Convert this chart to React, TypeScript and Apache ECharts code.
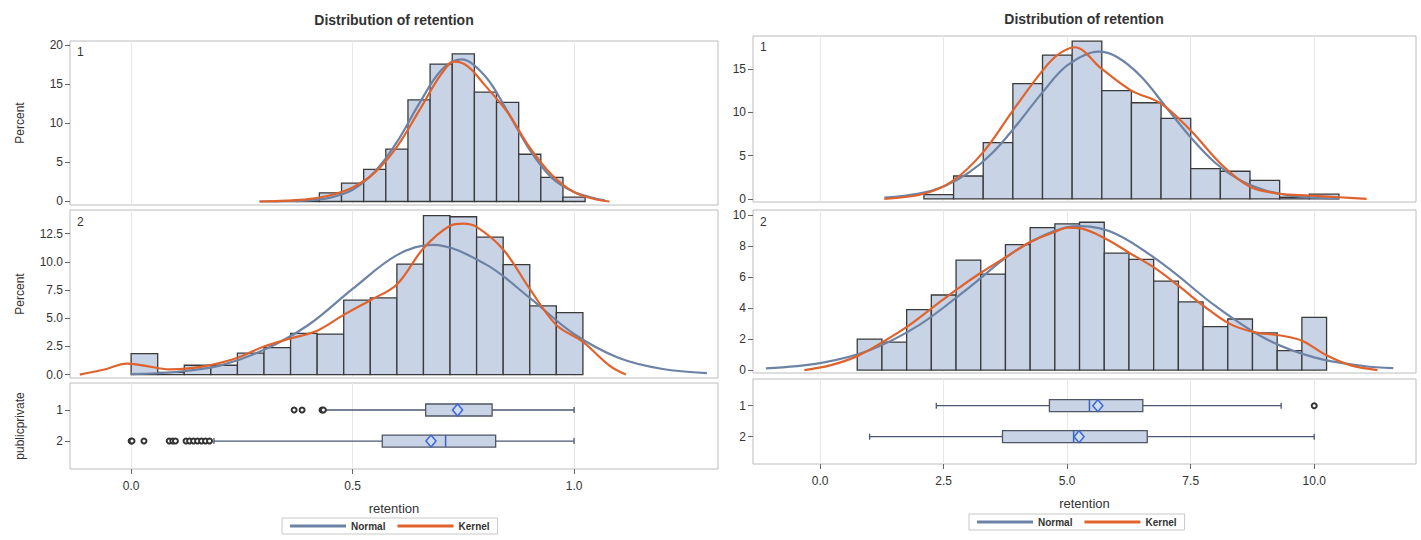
import React, { useEffect, useRef } from 'react';
import * as echarts from 'echarts';

const FONT = '"Liberation Sans", Arial, sans-serif';

// ---------- data ----------
const TITLE = 'Distribution of retention';
const X_NAME = 'retention';
const GROUPS = ['1', '2'];

// Left panel (share, 0..1)
const L_X_TICKS = [0, 0.5, 1.0];
const L_G1_BIN_W = 0.05;
const L_G1_CENTERS = [0.35, 0.40, 0.45, 0.50, 0.55, 0.60, 0.65, 0.70, 0.75, 0.80, 0.85, 0.90, 0.95, 1.00];
const L_G1_PCT = [0.1, 0.2, 1.1, 2.35, 4.1, 6.7, 13.0, 17.6, 18.9, 14.0, 12.7, 6.05, 3.1, 0.55];
const L_G1_NORMAL = [[0.29, 0.0], [0.35, 0.03], [0.40, 0.14], [0.45, 0.5], [0.50, 1.5], [0.55, 3.8], [0.60, 7.6], [0.65, 12.5], [0.70, 16.8], [0.745, 18.2], [0.80, 16.0], [0.85, 11.5], [0.90, 6.6], [0.95, 3.0], [1.00, 1.2], [1.05, 0.35], [1.07, 0.15]];
const L_G1_KERNEL = [[0.29, 0.0], [0.35, 0.1], [0.40, 0.3], [0.45, 0.8], [0.50, 1.8], [0.55, 3.7], [0.60, 7.0], [0.65, 11.6], [0.70, 16.3], [0.73, 17.9], [0.76, 17.3], [0.80, 14.8], [0.85, 11.4], [0.90, 6.9], [0.95, 3.4], [1.00, 1.2], [1.05, 0.25], [1.08, 0.0]];

const L_G2_BIN_W = 0.06;
const L_G2_CENTERS = [0.03, 0.09, 0.15, 0.21, 0.27, 0.33, 0.39, 0.45, 0.51, 0.57, 0.63, 0.69, 0.75, 0.81, 0.87, 0.93, 0.99];
const L_G2_PCT = [1.87, 0.2, 0.83, 0.83, 1.9, 2.4, 3.65, 3.6, 6.6, 6.8, 9.8, 14.1, 14.0, 12.2, 9.75, 6.1, 5.5];
const L_G2_NORMAL = [[0.0, 0.05], [0.1, 0.23], [0.2, 0.8], [0.3, 2.2], [0.4, 4.4], [0.5, 7.6], [0.6, 10.6], [0.68, 11.5], [0.8, 9.8], [0.9, 6.8], [1.0, 3.6], [1.1, 1.5], [1.2, 0.5], [1.3, 0.14]];
const L_G2_KERNEL = [[-0.116, 0], [-0.06, 0.45], [-0.01, 0.98], [0.03, 0.8], [0.086, 0.47], [0.13, 0.55], [0.18, 0.85], [0.24, 1.5], [0.30, 2.5], [0.36, 3.2], [0.42, 3.9], [0.48, 5.3], [0.54, 6.6], [0.60, 8.0], [0.66, 11.2], [0.72, 13.2], [0.75, 13.4], [0.78, 13.1], [0.84, 11.1], [0.90, 7.6], [0.96, 4.4], [1.02, 2.9], [1.08, 0.8], [1.117, 0.0]];

// boxplot: [min, q1, median, q3, max, mean]
const L_BOX = [[0.435, 0.665, 0.737, 0.815, 1.0, 0.737], [0.187, 0.567, 0.71, 0.823, 1.0, 0.677]];
const L_OUT_G1 = [0.368, 0.386, 0.431, 0.434];
const L_OUT_G2 = [0.0, 0.002, 0.029, 0.086, 0.094, 0.100, 0.124, 0.132, 0.141, 0.150, 0.159, 0.168, 0.177];

// Right panel (0..10)
const R_X_TICKS = [0, 2.5, 5.0, 7.5, 10.0];
const R_G1_BIN_W = 0.6;
const R_G1_CENTERS = [2.4, 3.0, 3.6, 4.2, 4.8, 5.4, 6.0, 6.6, 7.2, 7.8, 8.4, 9.0, 9.6, 10.2];
const R_G1_PCT = [0.5, 2.65, 6.5, 13.3, 16.6, 18.2, 12.5, 11.1, 9.3, 3.5, 3.2, 2.15, 0.2, 0.55];
const R_G1_NORMAL = [[1.3, 0.15], [2.0, 0.62], [2.5, 1.45], [3.0, 3.0], [3.5, 5.4], [4.0, 8.7], [4.5, 12.3], [5.0, 15.4], [5.63, 17.0], [6.0, 16.4], [6.5, 14.1], [7.0, 10.6], [7.5, 7.1], [8.0, 4.15], [8.5, 2.15], [9.0, 1.0], [9.5, 0.4], [10.0, 0.14], [10.5, 0.05]];
const R_G1_KERNEL = [[1.3, 0], [2.1, 0.6], [2.7, 2.15], [3.3, 5.4], [3.9, 10.2], [4.5, 14.8], [4.8, 16.6], [5.15, 17.5], [5.7, 15.0], [6.3, 12.5], [6.9, 11.0], [7.5, 7.9], [8.1, 4.1], [8.7, 1.4], [9.3, 0.6], [9.9, 0.4], [10.5, 0.2], [11.06, 0]];

const R_G2_BIN_W = 0.5;
const R_G2_CENTERS = [1.0, 1.5, 2.0, 2.5, 3.0, 3.5, 4.0, 4.5, 5.0, 5.5, 6.0, 6.5, 7.0, 7.5, 8.0, 8.5, 9.0, 9.5, 10.0];
const R_G2_PCT = [2.0, 1.8, 3.9, 4.85, 7.1, 6.2, 8.1, 9.2, 9.45, 9.55, 7.55, 7.15, 5.75, 4.4, 2.8, 3.3, 2.4, 1.25, 3.4];
const R_G2_NORMAL = [[-1.1, 0.11], [0, 0.45], [1, 1.28], [2, 2.9], [3, 5.3], [4, 7.8], [5, 9.23], [5.27, 9.3], [6, 8.78], [7, 6.7], [8, 4.14], [9, 2.05], [10, 0.82], [11, 0.26], [11.6, 0.12]];
const R_G2_KERNEL = [[-0.32, 0], [0.2, 0.3], [0.75, 0.9], [1.26, 1.8], [1.76, 2.8], [2.26, 4.0], [2.76, 5.2], [3.26, 6.3], [3.76, 7.3], [4.27, 8.3], [4.77, 8.95], [5.0, 9.2], [5.27, 9.15], [5.77, 8.5], [6.27, 7.55], [6.77, 6.6], [7.27, 5.4], [7.78, 4.1], [8.28, 3.0], [8.78, 2.45], [9.28, 2.25], [9.75, 1.9], [10.25, 0.95], [10.74, 0.3], [11.28, 0]];

const R_BOX = [[2.35, 4.64, 5.45, 6.53, 9.33, 5.62], [1.0, 3.69, 5.13, 6.62, 10.0, 5.24]];
const R_OUT_G1 = [10.0];
const R_OUT_G2: number[] = [];

const L_Y1_TICKS = [0, 5, 10, 15, 20];
const L_Y2_TICKS = [0, 2.5, 5, 7.5, 10, 12.5];
const R_Y1_TICKS = [0, 5, 10, 15];
const R_Y2_TICKS = [0, 2, 4, 6, 8, 10];
const BOX_TICKS = [1, 2];

// ---------- styles ----------
const BAR_FILL = '#c8d3e5';
const BAR_STROKE = '#3a3a3a';
const NORMAL_C = '#6c83a5';
const KERNEL_C = '#e0622c';
const FRAME_C = '#bcbcbc';
const GRIDLINE_C = '#e8e8e8';
const TEXT_C = '#333';
const TICK_C = '#666';

const GRIDS = [
  { left: 70, top: 41, width: 648, height: 164 },
  { left: 70, top: 210, width: 648, height: 168 },
  { left: 70, top: 383, width: 648, height: 86 },
  { left: 753, top: 36, width: 663, height: 166 },
  { left: 753, top: 210, width: 663, height: 163 },
  { left: 753, top: 379, width: 663, height: 85 },
];

function histSeries(idx: number, centers: number[], pct: number[], w: number) {
  return {
    type: 'custom',
    xAxisIndex: idx,
    yAxisIndex: idx,
    silent: true,
    data: centers.map((c, k) => [c, pct[k]]),
    encode: { x: 0, y: 1 },
    renderItem: (_p: any, api: any) => {
      const c = api.value(0);
      const v = api.value(1);
      const a = api.coord([c - w / 2, v]);
      const b = api.coord([c + w / 2, 0]);
      return {
        type: 'rect',
        shape: { x: a[0], y: a[1], width: b[0] - a[0], height: b[1] - a[1] },
        style: { fill: BAR_FILL, stroke: BAR_STROKE, lineWidth: 1.3 },
      };
    },
  };
}

function curve(idx: number, name: string, data: number[][], color: string) {
  return {
    type: 'line',
    name,
    xAxisIndex: idx,
    yAxisIndex: idx,
    data,
    smooth: 0.35,
    symbol: 'none',
    silent: true,
    lineStyle: { color, width: 2.2 },
    itemStyle: { color },
  };
}

function boxSeries(idx: number, boxes: number[][]) {
  return {
    type: 'custom',
    xAxisIndex: idx,
    yAxisIndex: idx,
    silent: true,
    data: boxes.map((b, k) => [k + 1, ...b]),
    encode: { x: [1, 2, 3, 4, 5, 6], y: 0 },
    renderItem: (_p: any, api: any) => {
      const cat = api.value(0);
      const X = (v: number) => api.coord([v, cat])[0];
      const cy = api.coord([api.value(1), cat])[1];
      const mn = X(api.value(1)), q1 = X(api.value(2)), md = X(api.value(3));
      const q3 = X(api.value(4)), mx = X(api.value(5)), mean = X(api.value(6));
      const h = 12;
      const wl = { stroke: '#4b5873', lineWidth: 1.3 };
      return {
        type: 'group',
        children: [
          { type: 'line', shape: { x1: mn, y1: cy, x2: q1, y2: cy }, style: wl },
          { type: 'line', shape: { x1: q3, y1: cy, x2: mx, y2: cy }, style: wl },
          { type: 'line', shape: { x1: mn, y1: cy - 3, x2: mn, y2: cy + 3 }, style: wl },
          { type: 'line', shape: { x1: mx, y1: cy - 3, x2: mx, y2: cy + 3 }, style: wl },
          { type: 'rect', shape: { x: q1, y: cy - h / 2, width: q3 - q1, height: h }, style: { fill: BAR_FILL, stroke: '#4f5563', lineWidth: 1.3 } },
          { type: 'line', shape: { x1: md, y1: cy - h / 2, x2: md, y2: cy + h / 2 }, style: { stroke: '#3b62c2', lineWidth: 1.5 } },
          { type: 'polygon', shape: { points: [[mean, cy - 6], [mean + 5, cy], [mean, cy + 6], [mean - 5, cy]] }, style: { fill: '#d3ddf2', stroke: '#3a68d6', lineWidth: 1.5 } },
        ],
      };
    },
  };
}

function outlierSeries(idx: number, outs: number[][]) {
  const data: number[][] = [];
  outs.forEach((arr, k) => arr.forEach((v) => data.push([v, k + 1])));
  return {
    type: 'scatter',
    xAxisIndex: idx,
    yAxisIndex: idx,
    silent: true,
    symbol: 'emptyCircle',
    symbolSize: 5,
    z: 5,
    data,
    itemStyle: { color: '#333', borderWidth: 1.3, opacity: 1 },
  };
}

function xAxis(idx: number, min: number, max: number, ticks: number[], bottom: boolean) {
  return {
    type: 'value',
    gridIndex: idx,
    min,
    max,
    axisLine: { show: false, onZero: false },
    axisTick: { show: bottom, customValues: ticks, length: 5, lineStyle: { color: TICK_C } },
    axisLabel: {
      show: bottom,
      customValues: ticks,
      formatter: (v: number) => v.toFixed(1),
      fontSize: 12,
      color: TEXT_C,
      fontFamily: FONT,
      margin: 11,
    },
    splitLine: { show: true, lineStyle: { color: GRIDLINE_C, width: 1 } },
    name: bottom ? X_NAME : '',
    nameLocation: 'middle',
    nameGap: 33,
    nameTextStyle: { fontSize: 13, color: TEXT_C, fontFamily: FONT },
  };
}

function yAxis(idx: number, min: number, max: number, ticks: number[], fmt: (v: number) => string, name: string, inverse = false) {
  return {
    type: 'value',
    gridIndex: idx,
    min,
    max,
    inverse,
    axisLine: { show: false, onZero: false },
    axisTick: { show: true, customValues: ticks, length: 5, lineStyle: { color: TICK_C } },
    axisLabel: { customValues: ticks, formatter: fmt, fontSize: 12, color: TEXT_C, fontFamily: FONT, margin: 7 },
    splitLine: { show: false },
    name,
    nameLocation: 'middle',
    nameRotate: 90,
    nameGap: 44,
    nameTextStyle: { fontSize: 12, color: TEXT_C, fontFamily: FONT },
  };
}

function legend(left: number, top: number) {
  return {
    left,
    top,
    orient: 'horizontal',
    data: [{ name: 'Normal' }, { name: 'Kernel' }],
    icon: 'rect',
    itemWidth: 56,
    itemHeight: 3,
    itemGap: 12,
    padding: [3, 8],
    borderColor: '#c8c8c8',
    borderWidth: 1,
    selectedMode: false,
    textStyle: { fontSize: 10, fontWeight: 'bold', color: TEXT_C, fontFamily: FONT },
  };
}

function text(x: number, y: number, t: string, size: number, bold = false, align = 'left') {
  return {
    type: 'text',
    x,
    y,
    silent: true,
    style: { text: t, fill: TEXT_C, font: `${bold ? 'bold ' : ''}${size}px ${FONT}`, textAlign: align, textVerticalAlign: 'middle' },
  };
}

function buildOption() {
  const int = (v: number) => String(v);
  const one = (v: number) => v.toFixed(1);
  return {
    animation: false,
    backgroundColor: '#fff',
    grid: GRIDS.map((g) => ({ ...g, show: true, borderColor: FRAME_C, borderWidth: 1, backgroundColor: 'transparent', containLabel: false })),
    xAxis: [
      xAxis(0, -0.138, 1.325, L_X_TICKS, false),
      xAxis(1, -0.138, 1.325, L_X_TICKS, false),
      xAxis(2, -0.138, 1.325, L_X_TICKS, true),
      xAxis(3, -1.36, 12.06, R_X_TICKS, false),
      xAxis(4, -1.36, 12.06, R_X_TICKS, false),
      xAxis(5, -1.36, 12.06, R_X_TICKS, true),
    ],
    yAxis: [
      yAxis(0, -0.45, 20.55, L_Y1_TICKS, int, 'Percent'),
      yAxis(1, -0.3, 14.6, L_Y2_TICKS, one, 'Percent'),
      yAxis(2, 0.13, 2.9, BOX_TICKS, int, 'publicprivate', true),
      yAxis(3, -0.35, 18.8, R_Y1_TICKS, int, ''),
      yAxis(4, -0.19, 10.34, R_Y2_TICKS, int, ''),
      yAxis(5, 0.14, 2.88, BOX_TICKS, int, '', true),
    ],
    legend: [legend(282, 518), legend(969, 514)],
    graphic: [
      text(394, 20, TITLE, 14, true, 'center'),
      text(1084, 19, TITLE, 14, true, 'center'),
      text(77, 52, GROUPS[0], 12),
      text(77, 222, GROUPS[1], 12),
      text(760, 47, GROUPS[0], 12),
      text(760, 222, GROUPS[1], 12),
    ],
    series: [
      histSeries(0, L_G1_CENTERS, L_G1_PCT, L_G1_BIN_W),
      curve(0, 'Normal', L_G1_NORMAL, NORMAL_C),
      curve(0, 'Kernel', L_G1_KERNEL, KERNEL_C),
      histSeries(1, L_G2_CENTERS, L_G2_PCT, L_G2_BIN_W),
      curve(1, 'Normal', L_G2_NORMAL, NORMAL_C),
      curve(1, 'Kernel', L_G2_KERNEL, KERNEL_C),
      boxSeries(2, L_BOX),
      outlierSeries(2, [L_OUT_G1, L_OUT_G2]),
      histSeries(3, R_G1_CENTERS, R_G1_PCT, R_G1_BIN_W),
      curve(3, 'Normal', R_G1_NORMAL, NORMAL_C),
      curve(3, 'Kernel', R_G1_KERNEL, KERNEL_C),
      histSeries(4, R_G2_CENTERS, R_G2_PCT, R_G2_BIN_W),
      curve(4, 'Normal', R_G2_NORMAL, NORMAL_C),
      curve(4, 'Kernel', R_G2_KERNEL, KERNEL_C),
      boxSeries(5, R_BOX),
      outlierSeries(5, [R_OUT_G1, R_OUT_G2]),
    ],
  };
}

export default function App() {
  const ref = useRef<HTMLDivElement>(null);
  useEffect(() => {
    const chart = echarts.init(ref.current as HTMLDivElement, null, { renderer: 'svg' });
    chart.setOption(buildOption() as any);
    return () => chart.dispose();
  }, []);
  return (
    <div
      ref={ref}
      style={{ position: 'fixed', left: 0, top: 0, width: 1421, height: 540, background: '#fff' }}
    />
  );
}
